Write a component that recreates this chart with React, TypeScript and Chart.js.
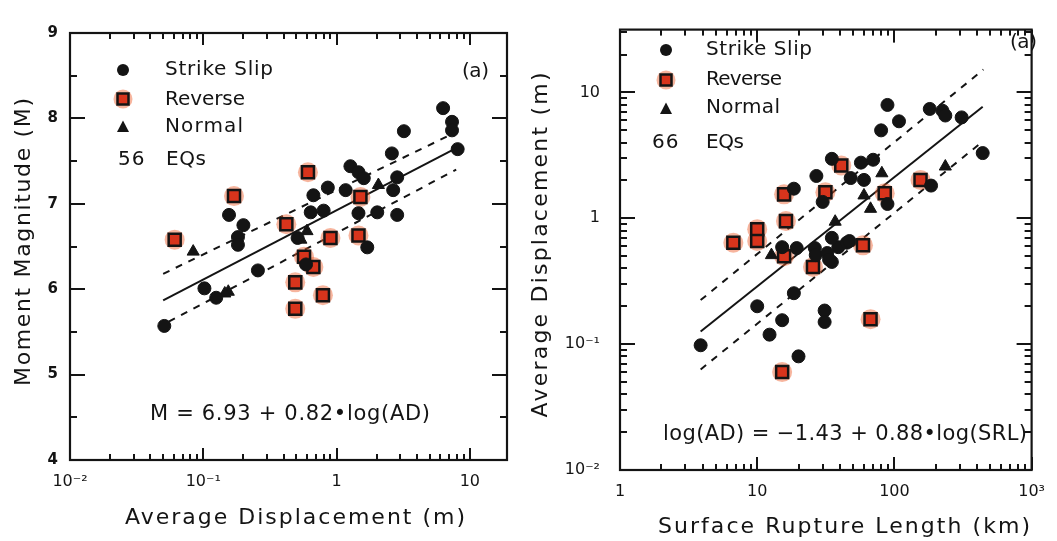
import React, { useEffect, useRef } from 'react';
import { Chart, registerables } from 'chart.js';
Chart.register(...registerables);

// ---------- Left panel: Average Displacement (m) vs Moment Magnitude ----------
const leftStrikeSlipAD = [6.3, 7.35, 7.35, 8.1, 3.2, 2.6, 1.27, 1.46, 1.6, 2.85, 2.66, 2.85, 2.02, 1.46, 1.7, 0.86, 1.17, 0.67, 0.8, 0.64, 0.156, 0.2, 0.182, 0.182, 0.257, 0.102, 0.125, 0.051, 0.51, 0.59];
const leftStrikeSlipM = [8.12, 7.96, 7.86, 7.64, 7.85, 7.59, 7.44, 7.37, 7.3, 7.31, 7.16, 6.87, 6.9, 6.89, 6.49, 7.19, 7.16, 7.1, 6.92, 6.9, 6.87, 6.75, 6.61, 6.52, 6.22, 6.01, 5.9, 5.57, 6.6, 6.29];
const leftReverseAD = [0.61, 0.17, 0.42, 0.061, 1.51, 1.46, 0.9, 0.57, 0.67, 0.49, 0.49, 0.79];
const leftReverseM = [7.37, 7.09, 6.76, 6.58, 7.08, 6.63, 6.6, 6.38, 6.26, 6.08, 5.77, 5.93];
const leftNormalAD = [0.084, 0.154, 0.145, 2.06, 0.54, 0.6];
const leftNormalM = [6.44, 5.97, 5.95, 7.22, 6.58, 6.68];
const leftFitAD = [0.05, 8.1];
const leftFitM = [5.87, 7.66];
const leftUpperAD = [0.05, 7.9];
const leftUpperM = [6.18, 7.84];
const leftLowerAD = [0.055, 7.9];
const leftLowerM = [5.62, 7.4];
const leftXTicks = [0.01, 0.1, 1, 10];
const leftXTickLabels = ['10⁻²', '10⁻¹', '1', '10'];
const leftXMinorTicks = [0.02, 0.03, 0.04, 0.05, 0.06, 0.07, 0.08, 0.09, 0.2, 0.3, 0.4, 0.5, 0.6, 0.7, 0.8, 0.9, 2, 3, 4, 5, 6, 7, 8, 9];
const leftYTicks = [4, 5, 6, 7, 8, 9];
const leftYTickLabels = ['4', '5', '6', '7', '8', '9'];
const leftYMinorTicks = [4.5, 5.5, 6.5, 7.5, 8.5];

// ---------- Right panel: Surface Rupture Length (km) vs Average Displacement (m) ----------
const rightStrikeSlipSRL = [89, 108, 80, 181, 224, 235, 309, 440, 35, 57, 70, 27, 48, 60, 185, 18.5, 30, 89, 15.2, 19.4, 26.3, 26.7, 32.4, 35, 39, 45, 35, 47, 33.4, 18.5, 10, 15.2, 12.3, 31, 31, 3.87, 20];
const rightStrikeSlipAD = [7.96, 5.9, 5.0, 7.4, 7.16, 6.56, 6.34, 3.3, 2.97, 2.77, 2.92, 2.17, 2.09, 2.02, 1.82, 1.72, 1.35, 1.3, 0.59, 0.58, 0.58, 0.51, 0.53, 0.45, 0.59, 0.64, 0.7, 0.66, 0.47, 0.254, 0.2, 0.155, 0.119, 0.185, 0.15, 0.098, 0.08];
const rightReverseSRL = [41, 155, 31.4, 15.7, 85, 16.2, 10, 10, 6.7, 15.7, 25.5, 59, 67, 15.2];
const rightReverseAD = [2.63, 2.02, 1.61, 1.55, 1.58, 0.95, 0.82, 0.66, 0.64, 0.5, 0.41, 0.61, 0.158, 0.06];
const rightNormalSRL = [235, 81, 60, 67, 37, 12.7];
const rightNormalAD = [2.58, 2.28, 1.52, 1.19, 0.94, 0.51];
const rightFitSRL = [3.87, 440];
const rightFitAD = [0.126, 7.7];
const rightUpperSRL = [3.87, 445];
const rightUpperAD = [0.224, 15.2];
const rightLowerSRL = [3.87, 440];
const rightLowerAD = [0.063, 4.08];
const rightXTicks = [1, 10, 100, 1000];
const rightXTickLabels = ['1', '10', '100', '10³'];
const rightXMinorTicks = [2, 3, 4, 5, 6, 7, 8, 9, 20, 30, 40, 50, 60, 70, 80, 90, 200, 300, 400, 500, 600, 700, 800, 900];
const rightYTicks = [0.01, 0.1, 1, 10];
const rightYTickLabels = ['10⁻²', '10⁻¹', '1', '10'];
const rightYMinorTicks = [0.02, 0.03, 0.04, 0.05, 0.06, 0.07, 0.08, 0.09, 0.2, 0.3, 0.4, 0.5, 0.6, 0.7, 0.8, 0.9, 2, 3, 4, 5, 6, 7, 8, 9, 20, 30];

const FONT = '"DejaVu Sans", "Liberation Sans", sans-serif';
const INK = '#141414';
const RED = '#d8341c';
const HALO = 'rgba(238,90,40,0.45)';

const zip = (xs: number[], ys: number[]) => xs.map((x, i) => ({ x, y: ys[i] }));

function labelFor(v: number, ticks: number[], labels: string[]) {
  const i = ticks.findIndex((t) => Math.abs(t - v) <= Math.abs(t) * 1e-6 + 1e-12);
  return i >= 0 ? labels[i] : '';
}

function drawMarker(ctx: CanvasRenderingContext2D, style: string, x: number, y: number) {
  ctx.save();
  if (style === 'circle') {
    ctx.fillStyle = INK;
    ctx.beginPath();
    ctx.arc(x, y, 6, 0, Math.PI * 2);
    ctx.fill();
  } else if (style === 'rect') {
    ctx.fillStyle = HALO;
    ctx.beginPath();
    ctx.arc(x, y, 9.5, 0, Math.PI * 2);
    ctx.fill();
    ctx.fillStyle = RED;
    ctx.strokeStyle = INK;
    ctx.lineWidth = 2.5;
    ctx.beginPath();
    ctx.rect(x - 5.5, y - 5.5, 11, 11);
    ctx.fill();
    ctx.stroke();
  } else {
    ctx.fillStyle = INK;
    ctx.beginPath();
    ctx.moveTo(x, y - 6.5);
    ctx.lineTo(x + 6, y + 5);
    ctx.lineTo(x - 6, y + 5);
    ctx.closePath();
    ctx.fill();
  }
  ctx.restore();
}

function drawLabel(ctx: CanvasRenderingContext2D, t: any) {
  ctx.save();
  ctx.font = `${t.weight || 'normal'} ${t.size}px ${FONT}`;
  ctx.fillStyle = INK;
  ctx.textBaseline = 'middle';
  ctx.textAlign = 'left';
  (ctx as any).letterSpacing = '0px';
  let sp = t.spacing || 0;
  if (t.width) {
    const w = ctx.measureText(t.text).width;
    sp = (t.width - w) / Math.max(1, t.text.length - 1);
  }
  (ctx as any).letterSpacing = `${sp}px`;
  const full = ctx.measureText(t.text).width - sp;
  ctx.translate(t.x, t.y);
  if (t.rotate) ctx.rotate(-Math.PI / 2);
  const x0 = t.align === 'center' ? -full / 2 : 0;
  ctx.fillText(t.text, x0, 0);
  ctx.restore();
}

function pointDs(label: string, data: any[], style: string, radius: number) {
  return {
    label,
    data,
    pointStyle: style,
    pointRadius: radius,
    pointHoverRadius: radius,
    backgroundColor: style === 'rect' ? RED : INK,
    borderColor: INK,
    borderWidth: style === 'rect' ? 2.5 : 1,
    showLine: false,
  };
}
function haloDs(data: any[]) {
  return {
    label: 'Reverse halo',
    data,
    pointStyle: 'circle',
    pointRadius: 10,
    pointHoverRadius: 10,
    backgroundColor: HALO,
    borderWidth: 0,
    showLine: false,
  };
}
function lineDs(label: string, data: any[], dashed: boolean) {
  return {
    label,
    data,
    showLine: true,
    pointRadius: 0,
    borderColor: INK,
    borderWidth: 2,
    borderDash: dashed ? [7, 7] : [],
    fill: false,
  };
}

function makeConfig(p: any) {
  const framePlugin = {
    id: 'frameTicks',
    afterDraw(chart: any) {
      const ctx: CanvasRenderingContext2D = chart.ctx;
      const a = chart.chartArea;
      const xsc = chart.scales.x;
      const ysc = chart.scales.y;
      ctx.save();
      ctx.setLineDash([]);
      ctx.globalAlpha = 1;
      ctx.globalCompositeOperation = 'source-over';
      ctx.shadowBlur = 0;
      ctx.shadowColor = 'rgba(0,0,0,0)';
      ctx.fillStyle = INK;
      const W = 2;
      const xList = [...p.xTicks.map((v: number) => [v, p.xMajorLen]), ...p.xMinor.map((v: number) => [v, p.xMinorLen])];
      for (const item of xList) {
        const v = Number(item[0]);
        const L = Number(item[1]);
        if (v < p.xMin || v > p.xMax) continue;
        const px = Math.round(xsc.getPixelForValue(v));
        if (!Number.isFinite(px)) continue;
        ctx.fillRect(px - W / 2, a.bottom - L, W, L);
        ctx.fillRect(px - W / 2, a.top, W, L);
      }
      const yList = [...p.yTicks.map((v: number) => [v, p.yMajorLen]), ...p.yMinor.map((v: number) => [v, p.yMinorLen])];
      for (const item of yList) {
        const v = Number(item[0]);
        const L = Number(item[1]);
        if (v < p.yMin || v > p.yMax) continue;
        const py = Math.round(ysc.getPixelForValue(v));
        if (!Number.isFinite(py)) continue;
        ctx.fillRect(a.left, py - W / 2, L, W);
        ctx.fillRect(a.right - L, py - W / 2, L, W);
      }
      ctx.strokeStyle = INK;
      ctx.lineWidth = 2.2;
      ctx.strokeRect(a.left, a.top, a.right - a.left, a.bottom - a.top);
      ctx.restore();
      for (const m of p.markers) drawMarker(ctx, m.style, m.x, m.y);
      for (const t of p.labels) drawLabel(ctx, t);
    },
  };
  return {
    type: 'scatter',
    data: {
      datasets: [
        pointDs('Strike Slip', p.ss, 'circle', 6.5),
        pointDs('Reverse', p.rev, 'rect', 8.5),
        pointDs('Normal', p.norm, 'triangle', 7),
        haloDs(p.rev),
        lineDs('fit', p.fit, false),
        lineDs('upper', p.upper, true),
        lineDs('lower', p.lower, true),
      ],
    },
    options: {
      animation: false,
      responsive: true,
      maintainAspectRatio: false,
      events: [],
      layout: { padding: { left: 0, right: p.padRight, top: p.padTop, bottom: 0 } },
      plugins: {
        legend: { display: false },
        tooltip: { enabled: false },
      },
      scales: {
        x: {
          type: 'logarithmic',
          min: p.xMin,
          max: p.xMax,
          grid: { display: false, drawTicks: false },
          border: { display: false },
          afterBuildTicks: (s: any) => {
            s.ticks = p.xTicks.map((v: number) => ({ value: v }));
          },
          ticks: {
            autoSkip: false,
            maxRotation: 0,
            padding: p.xPad,
            color: INK,
            font: { family: FONT, size: 16 },
            callback: (v: number) => labelFor(v, p.xTicks, p.xLabels),
          },
          afterFit: (s: any) => {
            s.height = p.xAxisH;
          },
        },
        y: {
          type: p.yLog ? 'logarithmic' : 'linear',
          min: p.yMin,
          max: p.yMax,
          grid: { display: false, drawTicks: false },
          border: { display: false },
          afterBuildTicks: (s: any) => {
            s.ticks = p.yTicks.map((v: number) => ({ value: v }));
          },
          ticks: {
            autoSkip: false,
            padding: p.yPad,
            color: INK,
            font: { family: FONT, size: p.yFontSize, weight: p.yFontWeight },
            callback: (v: number) => labelFor(v, p.yTicks, p.yLabels),
          },
          afterFit: (s: any) => {
            s.width = p.yAxisW;
          },
        },
      },
    },
    plugins: [framePlugin],
  };
}

const leftPanel = {
  ss: zip(leftStrikeSlipAD, leftStrikeSlipM),
  rev: zip(leftReverseAD, leftReverseM),
  norm: zip(leftNormalAD, leftNormalM),
  fit: zip(leftFitAD, leftFitM),
  upper: zip(leftUpperAD, leftUpperM),
  lower: zip(leftLowerAD, leftLowerM),
  xMin: 0.01, xMax: 19, yMin: 4, yMax: 9, yLog: false,
  xTicks: leftXTicks, xLabels: leftXTickLabels, yTicks: leftYTicks, yLabels: leftYTickLabels,
  xMinor: leftXMinorTicks, yMinor: leftYMinorTicks,
  xMajorLen: 12, xMinorLen: 6, yMajorLen: 15, yMinorLen: 7,
  padRight: 13, padTop: 33, xAxisH: 81, yAxisW: 70, xPad: 12, yPad: 12,
  yFontSize: 15, yFontWeight: 'bold',
  markers: [
    { style: 'circle', x: 123, y: 70 },
    { style: 'rect', x: 123, y: 99 },
    { style: 'triangle', x: 123, y: 127 },
  ],
  labels: [
    { text: 'Strike Slip', x: 165, y: 70, size: 20, width: 108 },
    { text: 'Reverse', x: 165, y: 100, size: 20, width: 80 },
    { text: 'Normal', x: 165, y: 127, size: 20, width: 78 },
    { text: '56', x: 118, y: 160, size: 20, spacing: 1 },
    { text: 'EQs', x: 166, y: 160, size: 20, width: 40 },
    { text: '(a)', x: 462, y: 72, size: 20, width: 27 },
    { text: 'M = 6.93 + 0.82•log(AD)', x: 290, y: 415, size: 21, width: 280, align: 'center' },
    { text: 'Average Displacement (m)', x: 295, y: 518, size: 22, width: 340, align: 'center' },
    { text: 'Moment Magnitude (M)', x: 24, y: 242, size: 22, width: 288, align: 'center', rotate: true },
  ],
};

const rightPanel = {
  ss: zip(rightStrikeSlipSRL, rightStrikeSlipAD),
  rev: zip(rightReverseSRL, rightReverseAD),
  norm: zip(rightNormalSRL, rightNormalAD),
  fit: zip(rightFitSRL, rightFitAD),
  upper: zip(rightUpperSRL, rightUpperAD),
  lower: zip(rightLowerSRL, rightLowerAD),
  xMin: 1, xMax: 1000, yMin: 0.01, yMax: 31.6, yLog: true,
  xTicks: rightXTicks, xLabels: rightXTickLabels, yTicks: rightYTicks, yLabels: rightYTickLabels,
  xMinor: rightXMinorTicks, yMinor: rightYMinorTicks,
  xMajorLen: 13, xMinorLen: 6, yMajorLen: 15, yMinorLen: 7,
  padRight: 7, padTop: 10, xAxisH: 71, yAxisW: 100, xPad: 12, yPad: 20,
  yFontSize: 16, yFontWeight: 'normal',
  markers: [
    { style: 'circle', x: 146, y: 50 },
    { style: 'rect', x: 146, y: 80 },
    { style: 'triangle', x: 146, y: 109 },
  ],
  labels: [
    { text: 'Strike Slip', x: 186, y: 50, size: 20, width: 106 },
    { text: 'Reverse', x: 186, y: 80, size: 20, width: 76 },
    { text: 'Normal', x: 186, y: 108, size: 20, width: 74 },
    { text: '66', x: 132, y: 143, size: 20, spacing: 1 },
    { text: 'EQs', x: 186, y: 143, size: 20, width: 38 },
    { text: '(a)', x: 490, y: 43, size: 20, width: 27 },
    { text: 'log(AD) = −1.43 + 0.88•log(SRL)', x: 325, y: 435, size: 21, width: 364, align: 'center' },
    { text: 'Surface Rupture Length (km)', x: 324, y: 527, size: 22, width: 372, align: 'center' },
    { text: 'Average Displacement (m)', x: 21, y: 245, size: 22, width: 345, align: 'center', rotate: true },
  ],
};

function Panel({ left, width, spec }: { left: number; width: number; spec: any }) {
  const ref = useRef<HTMLCanvasElement>(null);
  useEffect(() => {
    const chart = new Chart(ref.current as HTMLCanvasElement, makeConfig(spec) as any);
    return () => chart.destroy();
  }, [spec]);
  return (
    <div style={{ position: 'absolute', left, top: 0, width, height: 541 }}>
      <canvas ref={ref} />
    </div>
  );
}

export default function App() {
  return (
    <div style={{ position: 'absolute', left: 0, top: 0, width: 1057, height: 541, background: '#fff', overflow: 'hidden' }}>
      <Panel left={0} width={520} spec={leftPanel} />
      <Panel left={520} width={537} spec={rightPanel} />
    </div>
  );
}
